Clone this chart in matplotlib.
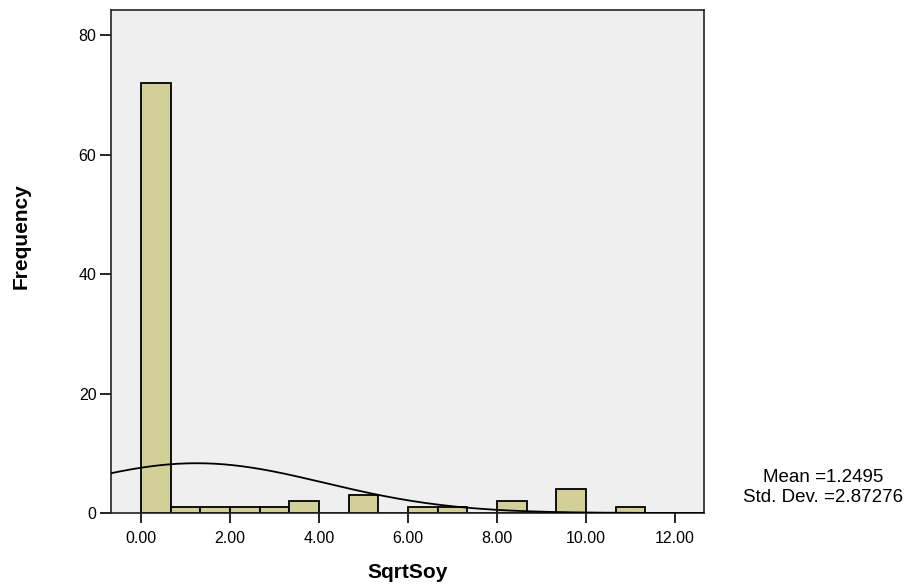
import matplotlib.pyplot as plt
import numpy as np

plt.rcParams['font.family'] = ['Liberation Sans', 'DejaVu Sans']

# histogram bins (width 2/3) and counts
bin_width = 2 / 3
bin_lefts = np.arange(17) * bin_width
counts = [72, 1, 1, 1, 1, 2, 0, 3, 0, 1, 1, 0, 2, 0, 4, 0, 1]
mean = 1.2495
std = 2.87276
n_total = sum(counts)

W, H = 909, 588
fig = plt.figure(figsize=(W / 100, H / 100), dpi=100)
ax = fig.add_axes([111 / W, 1 - 513 / H, (704.3 - 111) / W, (513 - 10) / H])
ax.set_facecolor('#efefef')

ax.bar(bin_lefts, counts, width=bin_width, align='edge', color='#d3cf99',
       edgecolor='black', linewidth=1.3, zorder=2)

# normal curve scaled to counts
xs = np.linspace(-0.8, 12.8, 400)
ys = n_total * bin_width * np.exp(-0.5 * ((xs - mean) / std) ** 2) / (std * np.sqrt(2 * np.pi))
ax.plot(xs, ys, color='black', linewidth=1.3, zorder=3)

ax.set_xlim(-0.674, 12.66)
ax.set_ylim(0, 84.2)
ax.set_xticks([0, 2, 4, 6, 8, 10, 12])
ax.set_xticklabels(['0.00', '2.00', '4.00', '6.00', '8.00', '10.00', '12.00'])
ax.set_yticks([0, 20, 40, 60, 80])
ax.tick_params(axis='x', length=7, width=1.2, labelsize=11.5, pad=6)
ax.tick_params(axis='y', length=8, width=1.2, labelsize=11.5, pad=2.5)
for s in ax.spines.values():
    s.set_linewidth(1.2)
    s.set_color('#222222')

fig.text(407.5 / W, 1 - 572 / H, 'SqrtSoy', fontsize=15, fontweight='bold',
         ha='center', va='center')
fig.text(21 / W, 1 - 236 / H, 'Frequency', fontsize=15, fontweight='bold',
         ha='center', va='center', rotation=90)

fig.text(823 / W, 1 - 478 / H, 'Mean =1.2495', ha='center', va='center', fontsize=13.5)
fig.text(823 / W, 1 - 498 / H, 'Std. Dev. =2.87276', ha='center', va='center', fontsize=13.5)

fig.savefig('out.png', dpi=100)
